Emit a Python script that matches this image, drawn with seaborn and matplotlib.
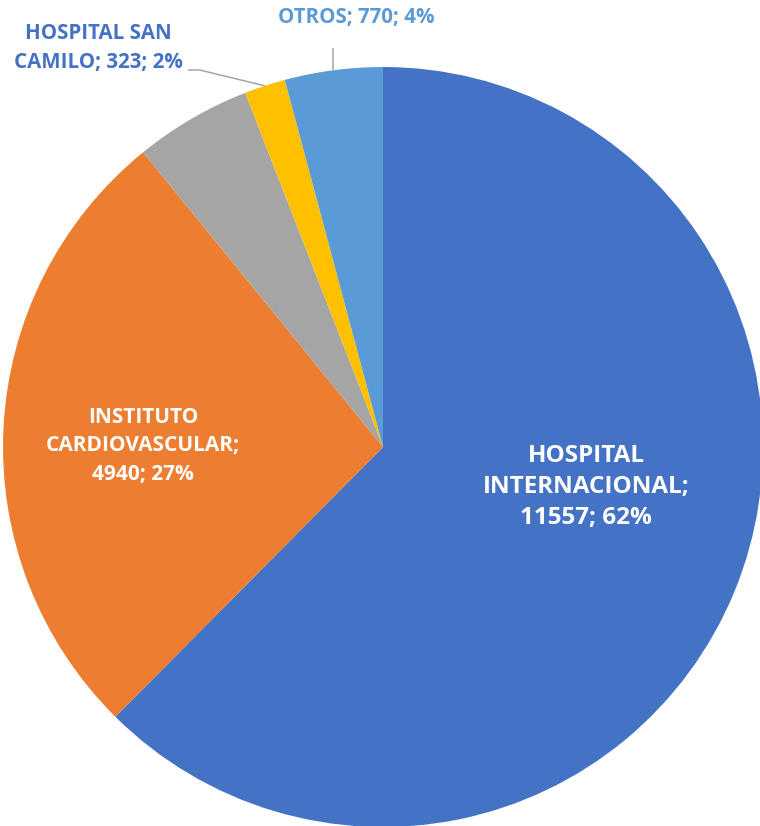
import numpy as np
import matplotlib
matplotlib.use("Agg")
import matplotlib.pyplot as plt
import seaborn as sns

# data
hospitals = ['HOSPITAL INTERNACIONAL', 'INSTITUTO CARDIOVASCULAR', '', 'HOSPITAL SAN CAMILO', 'OTROS']
label_lines = ['HOSPITAL\nINTERNACIONAL;', 'INSTITUTO\nCARDIOVASCULAR;', '', 'HOSPITAL SAN\nCAMILO;', 'OTROS;']
cases = [11557, 4940, 920, 323, 770]
colors = ['#4472C4', '#ED7D31', '#A5A5A5', '#FFC000', '#5B9BD5']

sns.set_theme(style="white")
plt.rcParams['font.family'] = ['Open Sans', 'DejaVu Sans']

fig = plt.figure(figsize=(7.6, 8.26), dpi=100)
ax = fig.add_axes([0, 0, 1, 1])

wedges, _ = ax.pie(cases, colors=colors, startangle=90, counterclock=False,
                   radius=1.0, wedgeprops=dict(linewidth=0))

# pixel layout: centre at (383, 447), radius 380 px
R = 380.0
ax.set_xlim(-383 / R, (760 - 383) / R)
ax.set_ylim(-(826 - 447) / R, 447 / R)
ax.set_aspect('equal')
ax.axis('off')

total = sum(cases)
pct = [round(100 * v / total) for v in cases]


def mid_point(w, r):
    ang = np.deg2rad((w.theta1 + w.theta2) / 2)
    return r * np.cos(ang), r * np.sin(ang)


# inside labels
ax.text(0.534, -0.105, f"{label_lines[0]}\n{cases[0]}; {pct[0]}%",
        ha='center', va='center', color='white', fontsize=17.5,
        fontweight='bold', linespacing=1.4)
ax.text(-0.632, 0.003, f"{label_lines[1]}\n{cases[1]}; {pct[1]}%",
        ha='center', va='center', color='white', fontsize=15,
        fontweight='bold', linespacing=1.47)

# outside label: HOSPITAL SAN CAMILO
x0, y0 = mid_point(wedges[3], 1.0)
ax.plot([x0, -0.482, -0.513], [y0, 0.992, 0.992], color='#A5A5A5', lw=1.1,
        solid_capstyle='butt')
ax.text(-0.75, 1.05, f"{label_lines[3]} {cases[3]}; {pct[3]}%",
        ha='center', va='center', color='#4472C4', fontsize=14.8,
        fontweight='bold', linespacing=1.45)

# outside label: OTROS
x1, y1 = mid_point(wedges[4], 1.0)
ax.plot([x1, x1], [y1, 1.05], color='#A5A5A5', lw=1.1, solid_capstyle='butt')
ax.text(-0.071, 1.13, f"{label_lines[4]} {cases[4]}; {pct[4]}%",
        ha='center', va='center', color='#5B9BD5', fontsize=14.8,
        fontweight='bold')

fig.savefig('out.png', dpi=100)
